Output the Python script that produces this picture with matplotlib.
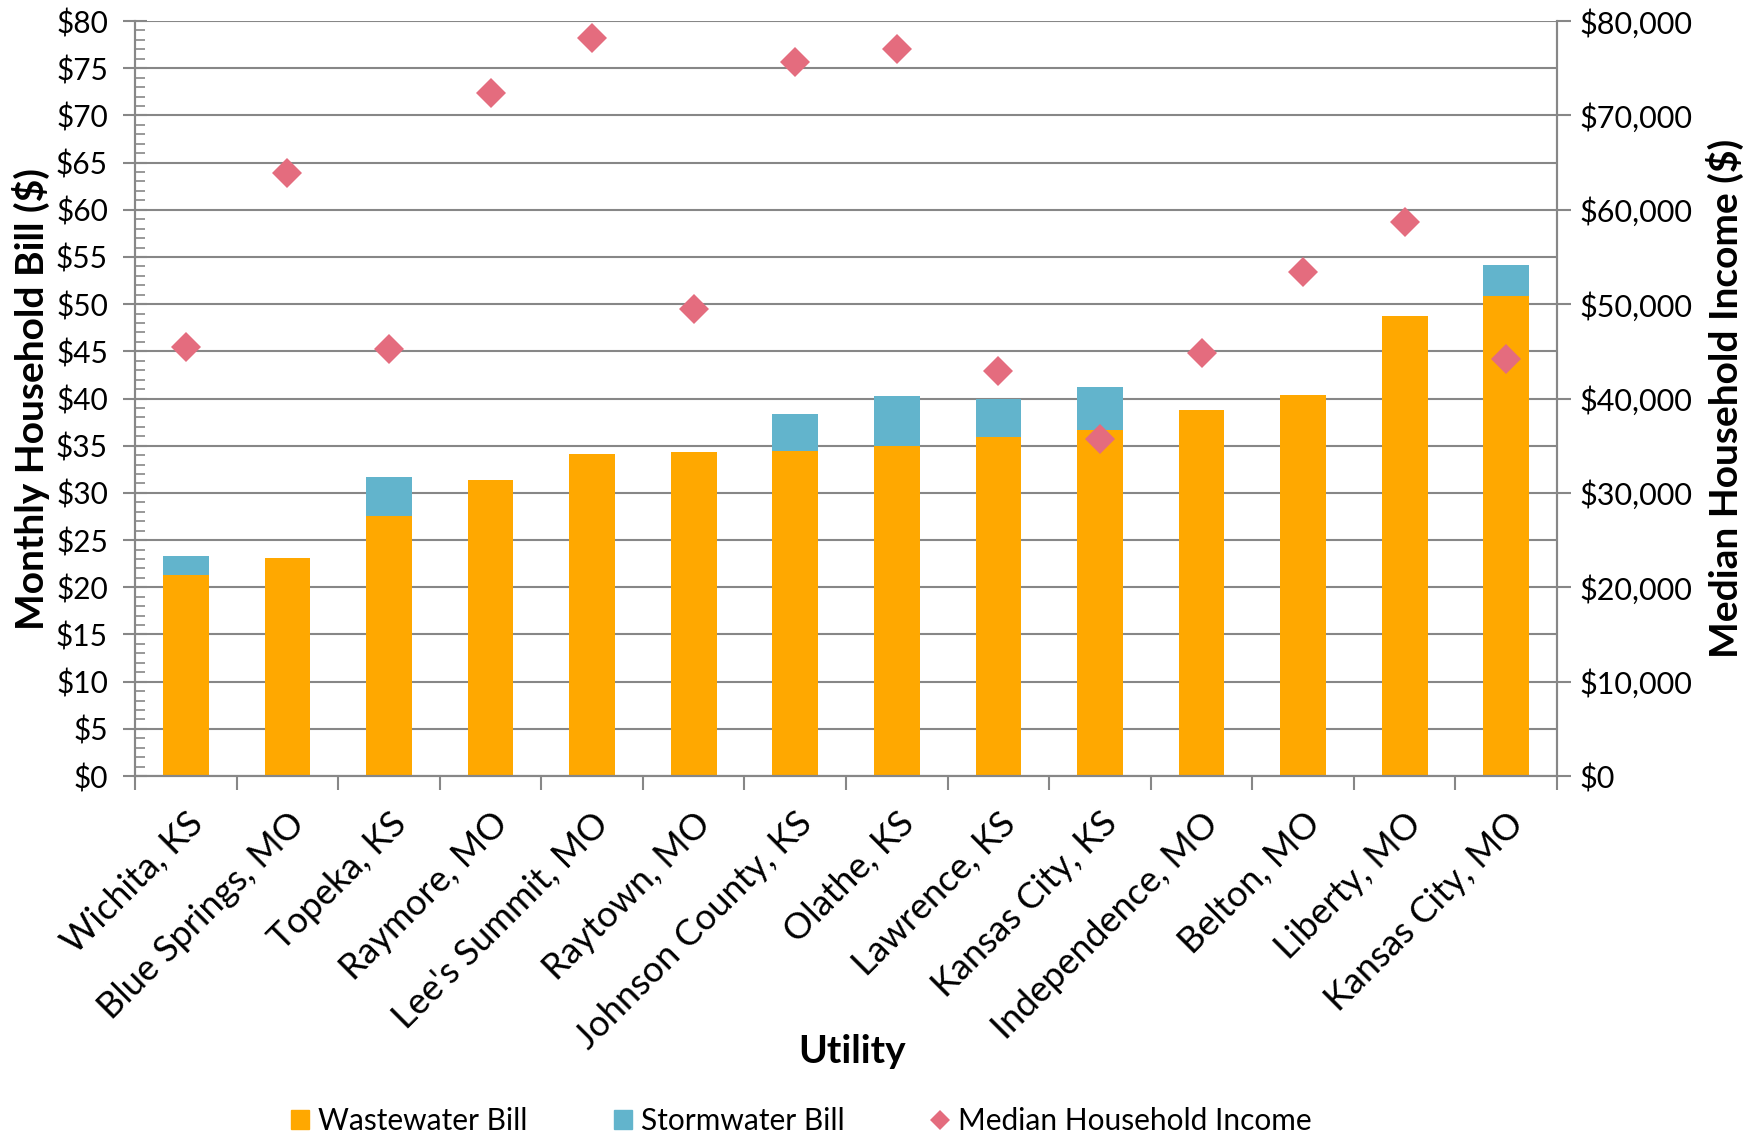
import matplotlib
matplotlib.use("Agg")
import matplotlib.pyplot as plt
import numpy as np
from matplotlib.ticker import MultipleLocator, FuncFormatter
from matplotlib.patches import Patch
from matplotlib.lines import Line2D

plt.rcParams['font.family'] = ['Lato', 'DejaVu Sans']

utilities = ["Wichita, KS", "Blue Springs, MO", "Topeka, KS", "Raymore, MO",
             "Lee's Summit, MO", "Raytown, MO", "Johnson County, KS", "Olathe, KS",
             "Lawrence, KS", "Kansas City, KS", "Independence, MO", "Belton, MO",
             "Liberty, MO", "Kansas City, MO"]
wastewater = [21.3, 23.1, 27.5, 31.4, 34.1, 34.3, 34.4, 35.0, 35.9, 36.7, 38.8, 40.4, 48.7, 50.9]
stormwater = [2.0, 0.0, 4.2, 0.0, 0.0, 0.0, 4.0, 5.3, 4.0, 4.5, 0.0, 0.0, 0.0, 3.2]
median_income = [45500, 63900, 45300, 72400, 78200, 49500, 75700, 77000,
                 42900, 35700, 44800, 53400, 58700, 44150]

c_ww = "#FFA800"
c_sw = "#62B4CC"
c_inc = "#E46C7E"
grid_c = "#878787"

fig = plt.figure(figsize=(17.58, 11.37), dpi=100)
ax = fig.add_axes([0.0768, 0.3175, 0.8089, 0.664])
x = np.arange(len(utilities))

ax.bar(x, wastewater, width=0.45, color=c_ww, zorder=2)
ax.bar(x, stormwater, width=0.45, bottom=wastewater, color=c_sw, zorder=2)

ax.set_xlim(-0.5, len(utilities) - 0.5)
ax.set_ylim(0, 80)
ax.yaxis.set_major_locator(MultipleLocator(5))
ax.yaxis.set_minor_locator(MultipleLocator(1))
ax.yaxis.set_major_formatter(FuncFormatter(lambda v, p: f"${v:.0f}"))
ax.grid(axis='y', color=grid_c, linewidth=1.5, zorder=0)
ax.set_axisbelow(True)

for s in ax.spines.values():
    s.set_color(grid_c)
    s.set_linewidth(1.5)
ax.spines['top'].set_visible(False)

ax.tick_params(axis='y', which='major', direction='inout', length=17, width=1.5,
               color=grid_c, labelsize=21.5, pad=11)
ax.tick_params(axis='y', which='minor', direction='in', length=7, width=1.2, color=grid_c)

ax.set_xticks(x)
ax.set_xticklabels(utilities, rotation=45, ha='right', rotation_mode='anchor', fontsize=26)
ax.tick_params(axis='x', which='major', length=0, pad=22)
ax.set_xticks(np.arange(len(utilities) + 1) - 0.5, minor=True)
ax.tick_params(axis='x', which='minor', direction='out', length=10, width=1.5, color=grid_c)

ax.set_ylabel("Monthly Household Bill ($)", fontsize=28, fontweight='bold', labelpad=4)
ax.set_xlabel("Utility", fontsize=28, fontweight='bold')
ax.xaxis.set_label_coords(0.504, -0.342)

ax2 = ax.twinx()
ax2.set_ylim(0, 80000)
ax2.yaxis.set_major_locator(MultipleLocator(10000))
ax2.yaxis.set_major_formatter(FuncFormatter(lambda v, p: f"${v:,.0f}"))
ax2.plot(x, median_income, linestyle='none', marker='D', markersize=15,
         color=c_inc, markeredgewidth=0, zorder=3)
for s in ax2.spines.values():
    s.set_color(grid_c)
    s.set_linewidth(1.5)
ax2.spines['top'].set_visible(False)
ax2.tick_params(axis='y', direction='out', length=10, width=1.5, color=grid_c,
                labelsize=22, pad=6)
ax2.set_ylabel("Median Household Income ($)", fontsize=28, fontweight='bold', labelpad=10)

handles = [Patch(color=c_ww), Patch(color=c_sw),
           Line2D([], [], linestyle='none', marker='D', markersize=10,
                  color=c_inc, markeredgewidth=0)]
labels = ["Wastewater Bill", "Stormwater Bill", "Median Household Income"]
fig.legend(handles, labels, loc='lower center', bbox_to_anchor=(0.456, -0.022), ncol=3,
           frameon=False, fontsize=21.5, handlelength=0.6, handleheight=0.6,
           handletextpad=0.3, columnspacing=2.9)

fig.savefig("out.png", dpi=100)
